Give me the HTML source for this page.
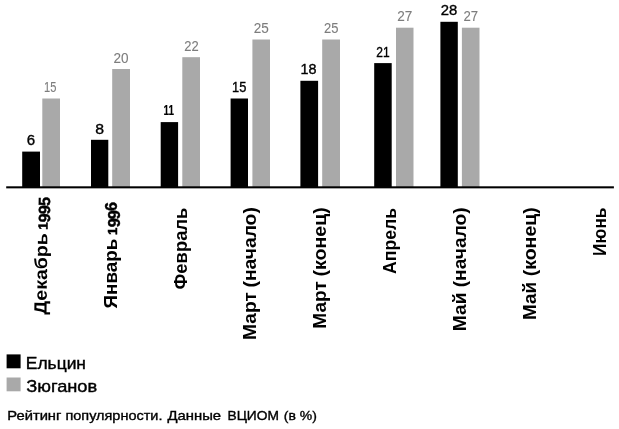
<!DOCTYPE html>
<html lang="ru">
<head>
<meta charset="utf-8">
<title>Рейтинг популярности</title>
<style>
html,body{margin:0;padding:0;background:#fff;}
body{width:619px;height:429px;overflow:hidden;}
svg{display:block;}
text{font-family:"Liberation Sans",sans-serif;}
.bl{font-size:14px;fill:#000;stroke:#000;stroke-width:.35px;}
.gl{font-size:14px;fill:#7d7d7d;stroke:#7d7d7d;stroke-width:.1px;}
.cat{font-size:17.8px;font-weight:bold;fill:#000;}
.dg{font-size:16.2px;stroke:#000;stroke-width:.45px;letter-spacing:-.85px;}
.d1{font-size:13.2px;stroke:#000;stroke-width:.5px;}
.leg{font-size:16.2px;fill:#000;stroke:#000;stroke-width:.4px;}
.cap{font-size:12.7px;fill:#000;stroke:#000;stroke-width:.35px;}
</style>
</head>
<body>
<svg width="619" height="429" viewBox="0 0 619 429">
<rect width="619" height="429" fill="#fff"/>

<rect x="22.2" y="151.6" width="17.8" height="35.4" fill="#000"/>
<rect x="42.3" y="98.5" width="17.7" height="88.5" fill="#a9a9a9"/>
<text class="bl" x="26.83" y="144.5" textLength="8.37" lengthAdjust="spacingAndGlyphs">6</text>
<text class="gl" x="44.10" y="91.8" textLength="12.34" lengthAdjust="spacingAndGlyphs">15</text>
<rect x="91.0" y="139.8" width="17.3" height="47.2" fill="#000"/>
<rect x="112.2" y="69.0" width="17.8" height="118.0" fill="#a9a9a9"/>
<text class="bl" x="95.30" y="133.5" textLength="8.80" lengthAdjust="spacingAndGlyphs">8</text>
<text class="gl" x="113.49" y="62.5" textLength="15.08" lengthAdjust="spacingAndGlyphs">20</text>
<rect x="160.7" y="122.1" width="17.4" height="64.9" fill="#000"/>
<rect x="182.3" y="57.2" width="17.7" height="129.8" fill="#a9a9a9"/>
<text class="bl" style="font-weight:bold;stroke-width:.15px" x="163.58" y="115.3" textLength="10.53" lengthAdjust="spacingAndGlyphs">11</text>
<text class="gl" x="184.31" y="50.9" textLength="14.41" lengthAdjust="spacingAndGlyphs">22</text>
<rect x="230.6" y="98.5" width="17.4" height="88.5" fill="#000"/>
<rect x="252.4" y="39.5" width="17.6" height="147.5" fill="#a9a9a9"/>
<text class="bl" x="232.11" y="91.7" textLength="14.30" lengthAdjust="spacingAndGlyphs">15</text>
<text class="gl" x="253.69" y="33.1" textLength="15.05" lengthAdjust="spacingAndGlyphs">25</text>
<rect x="300.4" y="80.8" width="17.7" height="106.2" fill="#000"/>
<rect x="322.2" y="39.5" width="17.8" height="147.5" fill="#a9a9a9"/>
<text class="bl" x="300.45" y="73.8" textLength="16.00" lengthAdjust="spacingAndGlyphs">18</text>
<text class="gl" x="324.01" y="33.1" textLength="14.41" lengthAdjust="spacingAndGlyphs">25</text>
<rect x="374.2" y="63.1" width="17.5" height="123.9" fill="#000"/>
<rect x="396.0" y="27.7" width="17.5" height="159.3" fill="#a9a9a9"/>
<text class="bl" x="376.34" y="57.2" textLength="13.36" lengthAdjust="spacingAndGlyphs">21</text>
<text class="gl" x="397.29" y="21.0" textLength="15.12" lengthAdjust="spacingAndGlyphs">27</text>
<rect x="440.4" y="21.8" width="17.4" height="165.2" fill="#000"/>
<rect x="461.9" y="27.7" width="17.6" height="159.3" fill="#a9a9a9"/>
<text class="bl" x="440.65" y="14.9" textLength="16.51" lengthAdjust="spacingAndGlyphs">28</text>
<text class="gl" x="463.50" y="21.0" textLength="14.69" lengthAdjust="spacingAndGlyphs">27</text>
<rect x="6.2" y="186.3" width="607.7" height="2.05" fill="#000"/>
<text class="cat" transform="translate(47.8,196.4) rotate(-89.4)" y="0"><tspan x="-118.4" textLength="81.5" lengthAdjust="spacingAndGlyphs">Декабрь</tspan> <tspan x="-33.4" class="d1">1</tspan><tspan x="-26.0" dy="2.4" class="dg">995</tspan></text>
<text class="cat" transform="translate(117.0,201.0) rotate(-90)" y="0"><tspan x="-107.6" textLength="70.0" lengthAdjust="spacingAndGlyphs">Январь</tspan> <tspan x="-33.9" class="d1">1</tspan><tspan x="-26.3" dy="2.5 0 -2.5" class="dg">996</tspan></text>
<text class="cat" transform="translate(187.2,207.6) rotate(-90)" y="0"><tspan x="-81.8" textLength="81.8" lengthAdjust="spacingAndGlyphs">Февраль</tspan></text>
<text class="cat" transform="translate(255.9,207.0) rotate(-90)" y="0"><tspan x="-132.9" textLength="47.7" lengthAdjust="spacingAndGlyphs">Март</tspan> <tspan x="-80.5" textLength="80.3" lengthAdjust="spacingAndGlyphs">(начало)</tspan></text>
<text class="cat" transform="translate(326.0,207.0) rotate(-90)" y="0"><tspan x="-121.7" textLength="47.5" lengthAdjust="spacingAndGlyphs">Март</tspan> <tspan x="-69.5" textLength="69.3" lengthAdjust="spacingAndGlyphs">(конец)</tspan></text>
<text class="cat" transform="translate(396.0,208.0) rotate(-90)" y="0"><tspan x="-65.9" textLength="65.9" lengthAdjust="spacingAndGlyphs">Апрель</tspan></text>
<text class="cat" transform="translate(466.3,207.0) rotate(-90)" y="0"><tspan x="-124.2" textLength="38.7" lengthAdjust="spacingAndGlyphs">Май</tspan> <tspan x="-80.3" textLength="80.0" lengthAdjust="spacingAndGlyphs">(начало)</tspan></text>
<text class="cat" transform="translate(536.3,207.0) rotate(-90)" y="0"><tspan x="-113.0" textLength="38.1" lengthAdjust="spacingAndGlyphs">Май</tspan> <tspan x="-69.3" textLength="69.0" lengthAdjust="spacingAndGlyphs">(конец)</tspan></text>
<text class="cat" transform="translate(606.4,207.5) rotate(-90)" y="0"><tspan x="-48.4" textLength="48.4" lengthAdjust="spacingAndGlyphs">Июнь</tspan></text>
<rect x="6.6" y="354.4" width="14" height="13.9" fill="#000"/>
<rect x="6.6" y="377.5" width="14" height="13.8" fill="#a9a9a9"/>
<text class="leg" x="25.8" y="368.6" textLength="60.2" lengthAdjust="spacingAndGlyphs">Ельцин</text>
<text class="leg" x="26.2" y="391.7" textLength="71.0" lengthAdjust="spacingAndGlyphs">Зюганов</text>
<text class="cap" y="420.4"><tspan x="7.3" textLength="54.1" lengthAdjust="spacingAndGlyphs">Рейтинг</tspan> <tspan x="65.4" textLength="97.1" lengthAdjust="spacingAndGlyphs">популярности.</tspan> <tspan x="167.5" textLength="53.6" lengthAdjust="spacingAndGlyphs">Данные</tspan> <tspan x="227.5" textLength="51.4" lengthAdjust="spacingAndGlyphs">ВЦИОМ</tspan> <tspan x="283.8" textLength="33.0" lengthAdjust="spacingAndGlyphs">(в %)</tspan></text>
</svg>
</body>
</html>
